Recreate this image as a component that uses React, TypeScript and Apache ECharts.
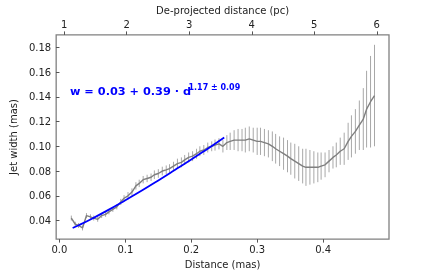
import React, { useEffect, useRef } from "react";
import * as echarts from "echarts";

const distance = [
  0.018, 0.024, 0.029, 0.035, 0.041, 0.047, 0.052, 0.058, 0.064, 0.070,
  0.075, 0.081, 0.087, 0.093, 0.098, 0.104, 0.110, 0.116, 0.121, 0.127,
  0.133, 0.139, 0.144, 0.150, 0.156, 0.162, 0.167, 0.173, 0.179, 0.185,
  0.190, 0.196, 0.202, 0.208, 0.213, 0.219, 0.225, 0.231, 0.236, 0.242,
  0.248, 0.254, 0.259, 0.265, 0.271, 0.277, 0.282, 0.288, 0.294, 0.300,
  0.305, 0.311, 0.317, 0.323, 0.328, 0.334, 0.340, 0.346, 0.351, 0.357,
  0.363, 0.369, 0.374, 0.380, 0.386, 0.392, 0.397, 0.403, 0.409, 0.415,
  0.420, 0.426, 0.432, 0.438, 0.443, 0.449, 0.455, 0.461, 0.466, 0.472,
  0.478,
];

const jetWidth = [
  0.042, 0.037, 0.036, 0.034, 0.044, 0.043, 0.042, 0.041, 0.044, 0.045,
  0.047, 0.049, 0.051, 0.055, 0.058, 0.060, 0.063, 0.068, 0.070, 0.073,
  0.074, 0.075, 0.077, 0.078, 0.080, 0.081, 0.082, 0.084, 0.086, 0.087,
  0.089, 0.091, 0.092, 0.094, 0.096, 0.097, 0.099, 0.100, 0.101, 0.102,
  0.100, 0.103, 0.104, 0.105, 0.105, 0.105, 0.105, 0.106, 0.105, 0.104,
  0.104, 0.103, 0.102, 0.100, 0.098, 0.096, 0.094, 0.092, 0.090, 0.088,
  0.086, 0.084, 0.083, 0.083, 0.083, 0.083, 0.084, 0.085, 0.088, 0.091,
  0.093, 0.096, 0.098, 0.104, 0.108, 0.112, 0.117, 0.122, 0.130, 0.136,
  0.141,
];

const widthError = [
  0.002, 0.002, 0.002, 0.002, 0.002, 0.002, 0.002, 0.002, 0.002, 0.002,
  0.002, 0.002, 0.002, 0.0025, 0.0025, 0.003, 0.003, 0.003, 0.003, 0.003,
  0.003, 0.003, 0.0035, 0.0035, 0.0035, 0.0035, 0.0035, 0.0035, 0.004, 0.004,
  0.004, 0.004, 0.004, 0.004, 0.004, 0.004, 0.004, 0.004, 0.0045, 0.0045,
  0.005, 0.006, 0.007, 0.008, 0.009, 0.009, 0.010, 0.010, 0.010, 0.011,
  0.011, 0.011, 0.011, 0.012, 0.012, 0.012, 0.013, 0.013, 0.013, 0.014,
  0.014, 0.014, 0.015, 0.014, 0.013, 0.012, 0.011, 0.010, 0.009, 0.009,
  0.010, 0.011, 0.013, 0.015, 0.017, 0.018, 0.020, 0.025, 0.031, 0.037,
  0.041,
];

const fitDistance = [0.02, 0.03, 0.05, 0.075, 0.1, 0.125, 0.15, 0.175, 0.2, 0.225, 0.25];
const fitWidth = [0.034, 0.0364, 0.0417, 0.0488, 0.0564, 0.0642, 0.0724, 0.0808, 0.0893, 0.0981, 0.107];

const bottomTicks = [0.0, 0.1, 0.2, 0.3, 0.4];
const topTicks = [1, 2, 3, 4, 5, 6];
const yTicks = [0.04, 0.06, 0.08, 0.1, 0.12, 0.14, 0.16, 0.18];

const FONT = "DejaVu Sans";

export default function App() {
  const ref = useRef<HTMLDivElement>(null);
  useEffect(() => {
    if (!ref.current) return;
    const chart = echarts.init(ref.current, null, { renderer: "svg" });
    const lineData = distance.map((d, i) => [d, jetWidth[i]]);
    const errData = distance.map((d, i) => [d, jetWidth[i], widthError[i]]);
    const fitData = fitDistance.map((d, i) => [d, fitWidth[i]]);
    const tickStyle = { show: true, length: 3.5, lineStyle: { color: "#555", width: 1 } };
    const labelStyle = { color: "#222", fontFamily: FONT, fontSize: 10 };
    chart.setOption({
      animation: false,
      grid: {
        left: 54, right: 43, top: 32, bottom: 31,
        show: true, borderColor: "#808080", borderWidth: 1.3, backgroundColor: "transparent",
      },
      xAxis: [
        {
          type: "value", position: "bottom", min: -0.005, max: 0.5,
          name: "Distance (mas)", nameLocation: "middle", nameGap: 19,
          nameTextStyle: { color: "#222", fontFamily: FONT, fontSize: 10 },
          axisLine: { show: false }, splitLine: { show: false },
          axisTick: { ...tickStyle, customValues: bottomTicks },
          axisLabel: { ...labelStyle, margin: 5, customValues: bottomTicks, formatter: (v: number) => v.toFixed(1) },
        },
        {
          type: "value", position: "top", min: 0.872, max: 6.195,
          name: "De-projected distance (pc)", nameLocation: "middle", nameGap: 19,
          nameTextStyle: { color: "#222", fontFamily: FONT, fontSize: 10 },
          axisLine: { show: false }, splitLine: { show: false },
          axisTick: { ...tickStyle, customValues: topTicks },
          axisLabel: { ...labelStyle, margin: 5, customValues: topTicks, formatter: (v: number) => String(Math.round(v)) },
        },
      ],
      yAxis: [
        {
          type: "value", min: 0.025, max: 0.19,
          name: "Jet width (mas)", nameLocation: "middle", nameGap: 33, nameRotate: 90,
          nameTextStyle: { color: "#222", fontFamily: FONT, fontSize: 10 },
          axisLine: { show: false }, splitLine: { show: false },
          axisTick: { ...tickStyle, customValues: yTicks },
          axisLabel: { ...labelStyle, margin: 5, customValues: yTicks, formatter: (v: number) => v.toFixed(2) },
        },
      ],
      series: [
        {
          type: "custom",
          xAxisIndex: 0, yAxisIndex: 0,
          data: errData,
          encode: { x: 0, y: 1 },
          z: 1,
          renderItem: (params: any, api: any) => {
            const x = api.value(0);
            const y = api.value(1);
            const e = api.value(2);
            const p1 = api.coord([x, y - e]);
            const p2 = api.coord([x, y + e]);
            return {
              type: "line",
              shape: { x1: p1[0], y1: p1[1], x2: p2[0], y2: p2[1] },
              style: { stroke: "#a8a8a8", lineWidth: 1 },
            };
          },
        },
        {
          type: "line", xAxisIndex: 0, yAxisIndex: 0, data: lineData,
          showSymbol: false, z: 2,
          lineStyle: { color: "#7f7f7f", width: 1.4 },
        },
        {
          type: "line", xAxisIndex: 0, yAxisIndex: 0, data: fitData,
          showSymbol: false, smooth: true, z: 3,
          lineStyle: { color: "#0000ff", width: 1.8 },
        },
      ],
      graphic: [
        {
          type: "text", x: 70, y: 91, z: 10,
          style: {
            text: "w = 0.03 + 0.39 · d", fill: "#0000ff",
            font: `bold 11.3px "${FONT}"`, textVerticalAlign: "middle", verticalAlign: "middle",
          },
        },
        {
          type: "text", x: 188.5, y: 87.5, z: 10,
          style: {
            text: "1.17 ± 0.09", fill: "#0000ff",
            font: `bold 8px "${FONT}"`, textVerticalAlign: "middle", verticalAlign: "middle",
          },
        },
      ],
    });
    return () => chart.dispose();
  }, []);
  return <div ref={ref} style={{ position: "fixed", left: 0, top: 0, width: 432, height: 274 }} />;
}
